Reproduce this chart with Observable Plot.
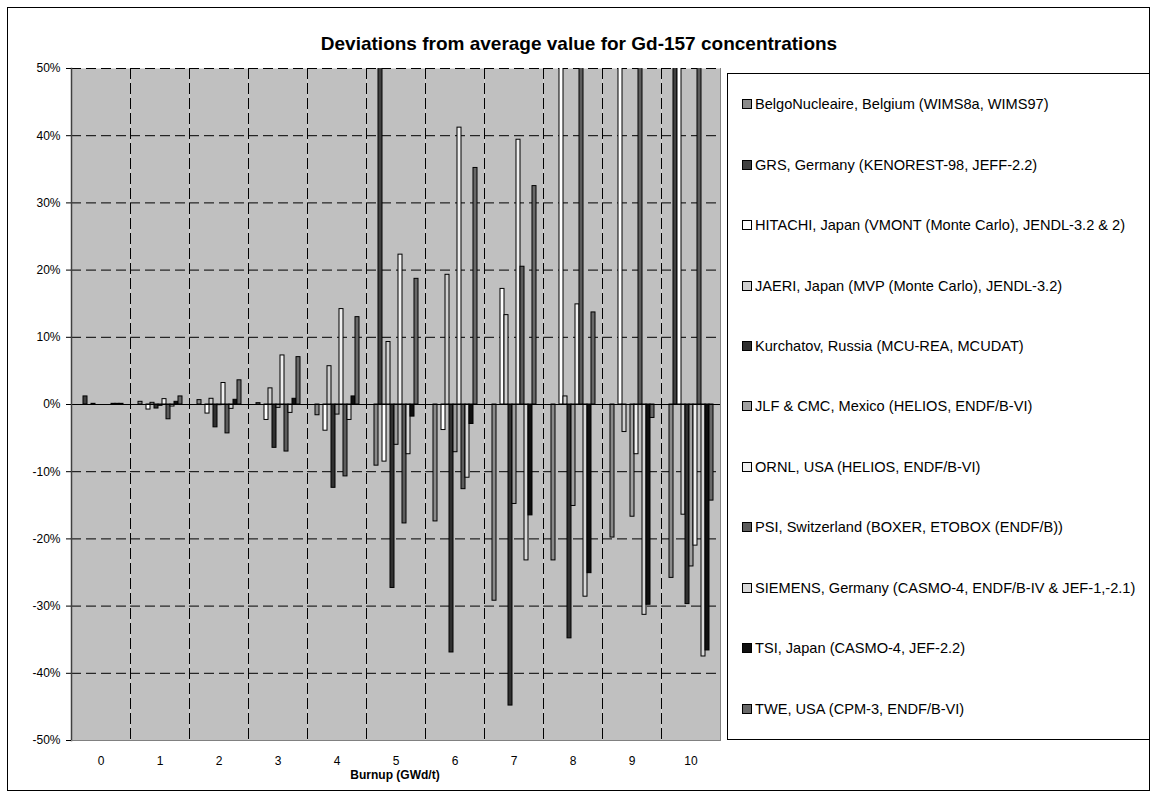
<!DOCTYPE html>
<html>
<head>
<meta charset="utf-8">
<script src="https://cdn.jsdelivr.net/npm/d3@7"></script>
<script src="https://cdn.jsdelivr.net/npm/@observablehq/plot@0.6"></script>
<style>
  html, body { margin: 0; padding: 0; background: #fff; }
  #page {
    position: relative; width: 1155px; height: 797px;
    font-family: "Liberation Sans", Arial, sans-serif; color: #000;
  }
  #outline {
    position: absolute; left: 7px; top: 7px; width: 1143px; height: 784px;
    border: 1px solid #000; box-sizing: border-box;
  }
  #title {
    position: absolute; left: 0; top: 33px; width: 1158px; text-align: center;
    font-weight: bold; font-size: 19px;
  }
  #chart { position: absolute; left: 0; top: 60px; }
  #xtitle {
    position: absolute; left: 68px; top: 768px; width: 654px; text-align: center;
    font-weight: bold; font-size: 12px;
  }
  #legend {
    position: absolute; left: 727px; top: 73px; width: 423px; height: 667px;
    border: 1px solid #000; box-sizing: border-box; background: #fff;
    display: flex; flex-direction: column; justify-content: space-around;
    padding-left: 14px; font-size: 14.6px;
  }
  .item { display: flex; align-items: center; white-space: nowrap; }
  .swatch {
    width: 8px; height: 8px; border: 1px solid #000; margin-right: 3px; flex: none;
  }
</style>
</head>
<body>
<div id="page">
  <div id="outline"></div>
  <div id="title">Deviations from average value for Gd-157 concentrations</div>
  <div id="chart"></div>
  <div id="xtitle">Burnup (GWd/t)</div>
  <div id="legend"></div>
</div>
<script>
// Burnup steps (GWd/t) on the category axis
const burnups = ["0", "1", "2", "3", "4", "5", "6", "7", "8", "9", "10"];

// Participants, in legend order
const participants = [
  "BelgoNucleaire, Belgium (WIMS8a, WIMS97)",
  "GRS, Germany (KENOREST-98, JEFF-2.2)",
  "HITACHI, Japan (VMONT (Monte Carlo), JENDL-3.2 & 2)",
  "JAERI, Japan (MVP (Monte Carlo), JENDL-3.2)",
  "Kurchatov, Russia (MCU-REA, MCUDAT)",
  "JLF & CMC, Mexico (HELIOS, ENDF/B-VI)",
  "ORNL, USA (HELIOS, ENDF/B-VI)",
  "PSI, Switzerland (BOXER, ETOBOX (ENDF/B))",
  "SIEMENS, Germany (CASMO-4, ENDF/B-IV & JEF-1,-2.1)",
  "TSI, Japan (CASMO-4, JEF-2.2)",
  "TWE, USA (CPM-3, ENDF/B-VI)"
];

// Fill shade of each participant
const shades = [
  "#8a8a8a", "#404040", "#ffffff", "#d0d0d0", "#303030", "#a0a0a0",
  "#f0f0f0", "#5c5c5c", "#d8d8d8", "#101010", "#686868"
];

// Deviation from the average Gd-157 concentration (%), one value per burnup step.
// Values above 50 % run past the top of the axis.
const belgo     = [0, 0.4, 0.65, 0.2, -1.6, -9.1, -17.4, -29.2, -23.2, -19.8, -25.8];
const grs       = [1.2, 0, 0, 0, 0, 60, 0, 0, 0, 0, 60];
const hitachi   = [0, -0.75, -1.35, -2.3, -3.9, -8.5, -3.8, 17.2, 60, 60, 60];
const jaeri     = [0.1, 0.25, 0.85, 2.4, 5.7, 9.3, 19.3, 13.3, 1.2, -4.1, -16.4];
const kurchatov = [0, -0.6, -3.4, -6.45, -12.4, -27.3, -36.9, -44.8, -34.8, 0, -29.7];
const jlf       = [0, -0.2, -0.1, -0.5, -1.5, -6.0, -7.1, -14.8, -15.1, -16.7, -24.1];
const ornl      = [0, 0.8, 3.2, 7.3, 14.2, 22.3, 41.2, 39.4, 14.9, -7.4, -21.0];
const psi       = [0, -2.2, -4.3, -7.0, -10.7, -17.7, -12.6, 20.5, 60, 60, 60];
const siemens   = [0.1, -0.3, -0.65, -1.25, -2.3, -7.4, -10.9, -23.2, -28.6, -31.3, -37.5];
const tsi       = [0.1, 0.4, 0.7, 0.85, 1.2, -1.8, -2.9, -16.5, -25.1, -29.8, -36.6];
const twe       = [0.1, 1.2, 3.6, 7.05, 13.0, 18.7, 35.2, 32.5, 13.7, -2.0, -14.3];

const seriesValues = [belgo, grs, hitachi, jaeri, kurchatov, jlf, ornl, psi, siemens, tsi, twe];

// Y axis ticks (%)
const yTicks = [-50, -40, -30, -20, -10, 0, 10, 20, 30, 40, 50];

// Long table: one row per burnup step and participant
const rows = [];
burnups.forEach((b, i) => {
  participants.forEach((p, s) => {
    rows.push({burnup: b, participant: p, value: seriesValues[s][i]});
  });
});

const dash = "10,5";

const chart = Plot.plot({
  width: 725,
  height: 725,
  marginLeft: 68,
  marginRight: 3,
  marginTop: 8,
  marginBottom: 45,
  style: {fontFamily: "'Liberation Sans', Arial, sans-serif", fontSize: "12px", color: "#000", background: "transparent", overflow: "visible"},
  fx: {domain: burnups, padding: 0, label: null},
  x: {domain: participants, paddingInner: 0, paddingOuter: 0.6, axis: null},
  y: {domain: [-50, 50], label: null},
  color: {domain: participants, range: shades},
  marks: [
    Plot.frame({fill: "#c0c0c0", stroke: "none"}),
    Plot.gridY(yTicks, {stroke: "#000", strokeOpacity: 1, strokeDasharray: dash}),
    Plot.frame({anchor: "left", stroke: "#000", strokeDasharray: dash}),
    Plot.barY(rows, {
      fx: "burnup", x: "participant", y: "value",
      fill: "participant", stroke: "#000", strokeWidth: 1, clip: true
    }),
    Plot.ruleY([0], {stroke: "#000", strokeWidth: 1}),
    Plot.frame({facet: "super", anchor: "left", stroke: "#404040", strokeWidth: 1.5}),
    Plot.frame({facet: "super", anchor: "right", stroke: "#808080"}),
    Plot.frame({facet: "super", anchor: "bottom", stroke: "#808080"}),
    Plot.axisY({ticks: yTicks, tickFormat: d => `${d}%`, tickSize: 5, tickPadding: 6, fontSize: 12, label: null}),
    Plot.axisFx({anchor: "bottom", tickSize: 0, tickPadding: 16, fontSize: 12, label: null})
  ]
});
document.getElementById("chart").appendChild(chart);

// Legend listing the participants with their fill shades
const legend = d3.select("#legend");
participants.forEach((p, i) => {
  const item = legend.append("div").attr("class", "item");
  item.append("span").attr("class", "swatch").style("background", shades[i]);
  item.append("span").text(p);
});
</script>
</body>
</html>
